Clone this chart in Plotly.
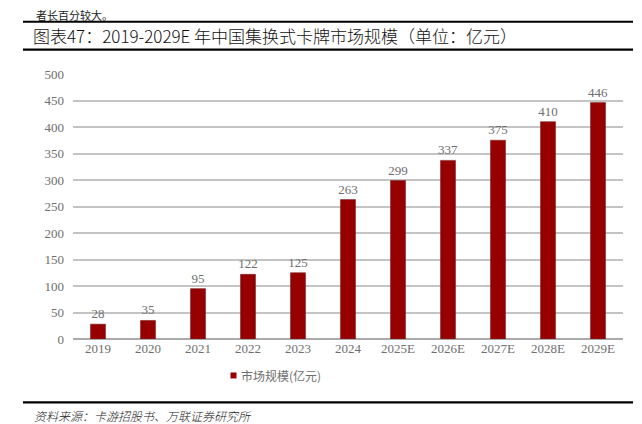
import plotly.graph_objects as go

categories = ["2019", "2020", "2021", "2022", "2023", "2024", "2025E", "2026E", "2027E", "2028E", "2029E"]
market_size = [28, 35, 95, 122, 125, 263, 299, 337, 375, 410, 446]
y_ticks = [0, 50, 100, 150, 200, 250, 300, 350, 400, 450, 500]
series_name = "市场规模(亿元)"
title_text = "图表47：2019-2029E 年中国集换式卡牌市场规模（单位：亿元）"
source_text = "资料来源：卡游招股书、万联证券研究所"
top_text = "者长百分较大。"

OFF = 8  # page body margin
W, H = 642 - OFF, 424 - OFF
L, R_EDGE = 73 - OFF, 623 - OFF
TOP, BOT = 74.3 - OFF, 339.5 - OFF

def px(x):
    return (x - OFF - L) / (R_EDGE - L)

def py(y):
    return (BOT - (y - OFF)) / (BOT - TOP)

serif = "Liberation Serif, Times New Roman, serif"
cjk = "Noto Sans CJK SC, sans-serif"
grey = "#6e6e6e"
bar_color = "#960000"

fig = go.Figure()
fig.add_trace(go.Bar(
    x=categories, y=market_size, name=series_name, showlegend=False,
    marker=dict(color=bar_color, line=dict(color="#7a2a2a", width=0.6)),
    text=[str(v) for v in market_size], textposition="outside",
    constraintext="none",
    textfont=dict(family=serif, size=13, color=grey),
    cliponaxis=False,
))

fig.update_layout(
    width=W, height=H,
    margin=dict(l=L, r=W - R_EDGE, t=TOP, b=H - BOT, autoexpand=False),
    paper_bgcolor="white", plot_bgcolor="white",
    bargap=0.7,
    showlegend=False,
    xaxis=dict(showgrid=False, ticks="", showline=False,
               tickfont=dict(family=serif, size=13, color=grey)),
    yaxis=dict(range=[0, 500], tickvals=y_ticks, showgrid=True, gridcolor="#c4c4c4", gridwidth=1.5,
               zeroline=True, zerolinecolor="#aaaaaa", zerolinewidth=2,
               ticks="", showline=False, ticklabelstandoff=8,
               tickfont=dict(family=serif, size=13, color=grey)),
)

shapes = []
for yy in (22, 50, 403):
    shapes.append(dict(type="line", xref="paper", yref="paper",
                       x0=px(23), x1=px(633), y0=py(yy), y1=py(yy),
                       line=dict(color="black", width=2.2)))
# legend swatch
shapes.append(dict(type="rect", xref="paper", yref="paper",
                   x0=px(230.5), x1=px(236.5), y0=py(379), y1=py(373),
                   fillcolor=bar_color, line=dict(width=0)))
fig.update_layout(shapes=shapes)

fig.add_annotation(text=series_name, xref="paper", yref="paper", x=px(239), y=py(376),
                   xanchor="left", yanchor="middle", showarrow=False,
                   font=dict(family=cjk, size=12, color=grey))
fig.add_annotation(text=title_text, xref="paper", yref="paper", x=px(31), y=py(36),
                   xanchor="left", yanchor="middle", showarrow=False,
                   font=dict(family=cjk, size=17, color="#111111", weight=300))
fig.add_annotation(text="<i>" + source_text + "</i>", xref="paper", yref="paper", x=px(32), y=py(416),
                   xanchor="left", yanchor="middle", showarrow=False,
                   font=dict(family=cjk, size=12, color="#222222", weight=300))
fig.add_annotation(text=top_text, xref="paper", yref="paper", x=px(34), y=py(15),
                   xanchor="left", yanchor="middle", showarrow=False,
                   font=dict(family=cjk, size=11, color="#222222"))

fig.write_html("out.html")
